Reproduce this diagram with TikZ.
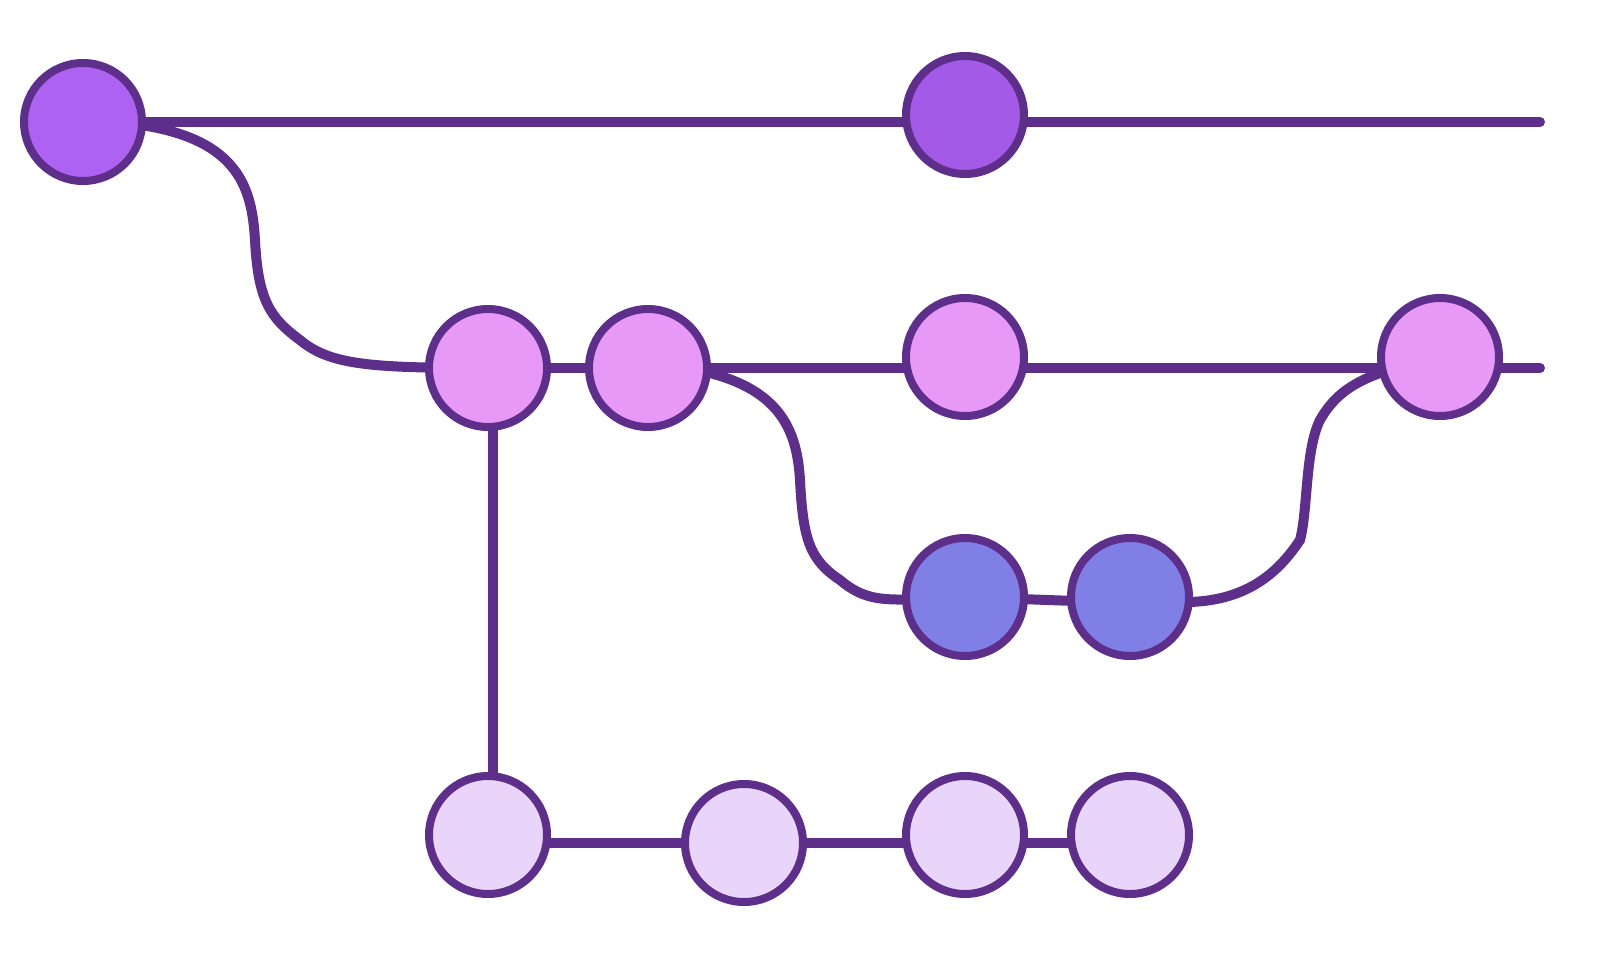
\documentclass[tikz,border=0pt]{standalone}
\usetikzlibrary{calc}
\begin{document}
\begin{tikzpicture}[x=1pt,y=-1pt,
  ln/.style={draw=lc,line width=10pt,line cap=round},
  commit/.style={circle,draw=lc,line width=8pt,minimum size=118pt,inner sep=0pt}]
\definecolor{lc}{HTML}{5E2F8A}
\definecolor{ca}{HTML}{AD62F2}
\definecolor{cb}{HTML}{A35AE6}
\definecolor{cp}{HTML}{E899F7}
\definecolor{cv}{HTML}{7F7FE6}
\definecolor{cl}{HTML}{E8D5F9}
\useasboundingbox (0,0) rectangle (1610,980);
\coordinate (e1) at (1540,122);
\coordinate (e2) at (1540,368);
\path (83,122) coordinate (A) (965,115) coordinate (B) (488,368) coordinate (C)
  (648,368) coordinate (D) (965,357) coordinate (E) (1440,357) coordinate (F)
  (965,597) coordinate (G) (1130,597) coordinate (H) (488,835) coordinate (I)
  (744,843) coordinate (J) (965,835) coordinate (K) (1130,835) coordinate (L);
\path[ln] (A) -- (e1);
\path[ln] (C) -- (e2);
\path[ln] (141,125) .. controls (240,140) and (252,190) .. (255,240) .. controls (258,300) and (270,318) .. (300,340) .. controls (330,365) and (370,368) .. (C);
\path[ln] (706,372) .. controls (780,390) and (797,430) .. (800,480) .. controls (803,540) and (810,560) .. (840,580) .. controls (870,605) and (890,600) .. (G);
\path[ln] (G) -- ($(H)+(0,6)$);
\path[ln] ($(H)+(60,5)$) .. controls (1250,600) and (1280,570) .. (1300,540) .. controls (1308,510) and (1305,450) .. (1320,420) .. controls (1340,385) and (1370,372) .. (F);
\path[ln] ($(C)+(5,0)$) -- ($(I)+(5,0)$);
\path[ln] ($(I)+(0,8)$) -- (J) -- ($(K)+(0,8)$) -- ($(L)+(0,8)$);
\foreach \n/\c in {A/ca,B/cb,C/cp,D/cp,E/cp,F/cp,G/cv,H/cv,I/cl,J/cl,K/cl,L/cl}
  \node[commit,fill=\c] (n\n) at (\n) {};
\end{tikzpicture}
\end{document}
